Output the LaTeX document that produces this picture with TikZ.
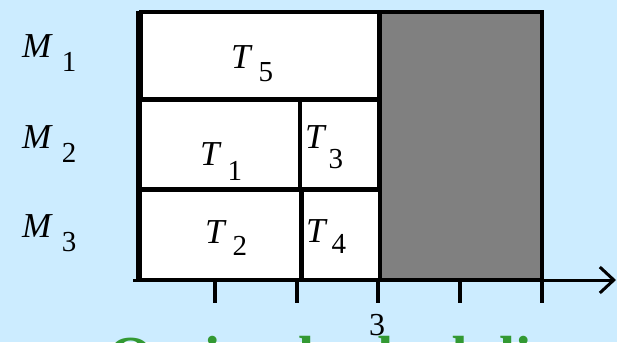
\documentclass[tikz,border=0pt]{standalone}
\usepackage{fontspec}
\setmainfont{Liberation Serif}
\usetikzlibrary{arrows.meta}
\definecolor{bgblue}{RGB}{204,236,255}
\definecolor{idlegray}{RGB}{128,128,128}
\definecolor{titlegreen}{RGB}{51,153,51}
\newcommand{\mylab}[4]{\textit{#1}\hspace{#4}\raisebox{-#3}{\fontsize{29}{29}\selectfont #2}}
\tikzset{
  lbl/.style={anchor=base west, inner sep=0pt, font=\fontsize{35}{35}\selectfont},
  taskbox/.style={draw=black, line width=4pt, fill=white},
  tickline/.style={line width=3.5pt},
}
\begin{document}
\begin{tikzpicture}[x=1pt,y=-1pt]
\useasboundingbox (0,0) rectangle (617,342);
\clip (0,0) rectangle (617,342);
\fill[bgblue] (0,0) rectangle (617,342);
% idle region
\draw[line width=4pt, fill=idlegray] (380,12) rectangle (542,280);
% task boxes
\draw[taskbox] (141,12) rectangle (379,99);
\draw[taskbox] (140,100) rectangle (300,189);
\draw[taskbox] (300,100) rectangle (379,189);
\draw[taskbox] (140,190) rectangle (301,280);
\draw[taskbox] (302,190) rectangle (380,280);
% axes
\coordinate (ytop) at (138,11);
\coordinate (ybot) at (138,282);
\draw[line width=4.5pt] (ytop) -- (ybot);
\coordinate (xstart) at (133,280);
\coordinate (xend) at (616,280);
\draw[line width=3pt, -{Straight Barb[length=14pt,width=26pt,line width=3pt]}] (xstart) -- (xend);
% ticks
\foreach \tx in {215,297,378,460,542}{
  \draw[tickline] (\tx,280) -- (\tx,303);
}
\node[anchor=base, inner sep=0pt, font=\fontsize{32}{32}\selectfont] (three) at (377,335) {3};
% machine labels
\node[lbl] (m1) at (22,58) {\mylab{M}{1}{14pt}{9pt}};
\node[lbl] (m2) at (22,148) {\mylab{M}{2}{14pt}{9pt}};
\node[lbl] (m3) at (22,237) {\mylab{M}{3}{14pt}{9pt}};
% task labels
\node[lbl] (t5) at (231,69) {\mylab{T}{5}{13pt}{6pt}};
\node[lbl] (t1) at (200,165) {\mylab{T}{1}{15pt}{6pt}};
\node[lbl] (t2) at (205,243) {\mylab{T}{2}{12pt}{6pt}};
\node[lbl] (t3) at (305,148) {\mylab{T}{3}{20pt}{2pt}};
\node[lbl] (t4) at (306,242) {\mylab{T}{4}{11pt}{4pt}};
% title (cut off at the bottom edge, as in the reference)
\node[anchor=base west, inner sep=0pt, text=titlegreen, font=\bfseries\fontsize{58}{58}\selectfont] (title) at (108,376) {Optimal scheduling};
\end{tikzpicture}
\end{document}
